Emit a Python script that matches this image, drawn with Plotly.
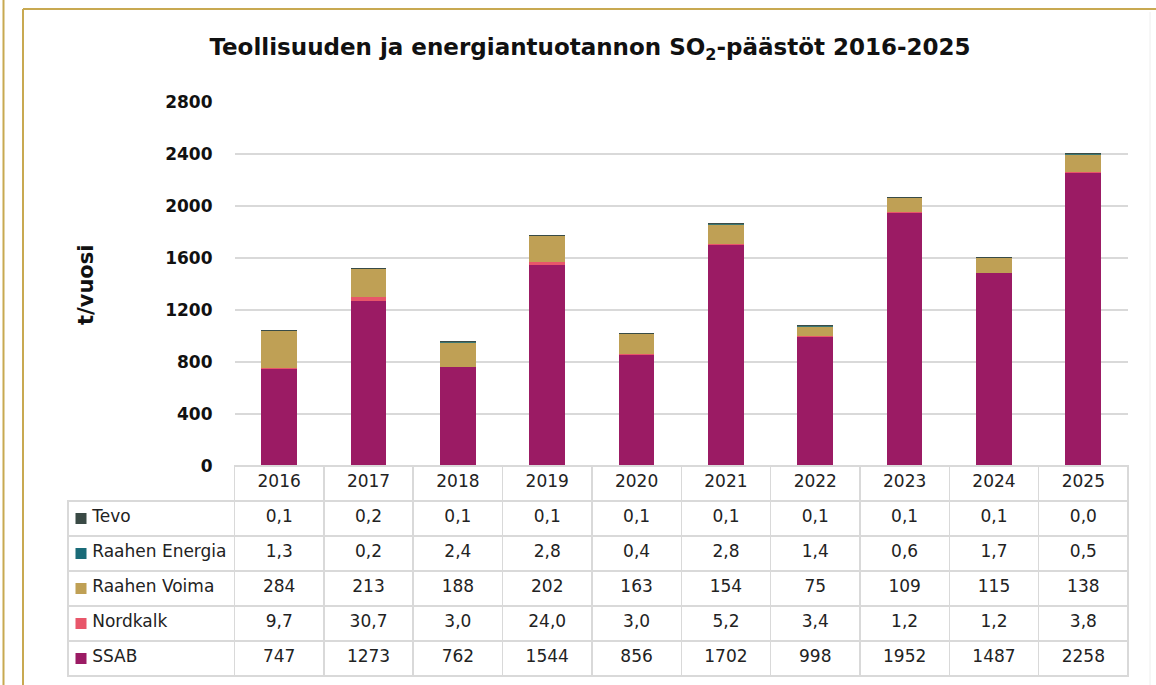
import plotly.graph_objects as go

W, H = 1156, 685

years = ["2016", "2017", "2018", "2019", "2020", "2021", "2022", "2023", "2024", "2025"]
series_names = ["Tevo", "Raahen Energia", "Raahen Voima", "Nordkalk", "SSAB"]
tevo = [0.1, 0.2, 0.1, 0.1, 0.1, 0.1, 0.1, 0.1, 0.1, 0.0]
raahen_energia = [1.3, 0.2, 2.4, 2.8, 0.4, 2.8, 1.4, 0.6, 1.7, 0.5]
raahen_voima = [284, 213, 188, 202, 163, 154, 75, 109, 115, 138]
nordkalk = [9.7, 30.7, 3.0, 24.0, 3.0, 5.2, 3.4, 1.2, 1.2, 3.8]
ssab = [747, 1273, 762, 1544, 856, 1702, 998, 1952, 1487, 2258]
y_ticks = [0, 400, 800, 1200, 1600, 2000, 2400, 2800]

colors = {
    "Tevo": "#3a4a45",
    "Raahen Energia": "#1a6b78",
    "Raahen Voima": "#bfa055",
    "Nordkalk": "#e8566a",
    "SSAB": "#9b1b64",
}
decimals = {"Tevo": 1, "Raahen Energia": 1, "Raahen Voima": 0, "Nordkalk": 1, "SSAB": 0}
values = {
    "Tevo": tevo,
    "Raahen Energia": raahen_energia,
    "Raahen Voima": raahen_voima,
    "Nordkalk": nordkalk,
    "SSAB": ssab,
}

FONT = "DejaVu Sans"
GRID = "#d9d9d9"
GOLD = "#c8a951"
TXT = "#222222"

fig = go.Figure()

# stacked bars (bottom to top)
for name in ["SSAB", "Nordkalk", "Raahen Voima", "Raahen Energia", "Tevo"]:
    thin = name in ("Raahen Energia", "Tevo")
    fig.add_trace(go.Bar(
        x=years, y=values[name], name=name,
        marker=dict(color=colors[name],
                    line=dict(color=colors[name], width=0.8 if thin else 0)),
        showlegend=False, xaxis="x", yaxis="y",
    ))

# legend keys for the table rows (square markers in the label column)
fig.add_trace(go.Scatter(
    x=[0] * len(series_names), y=series_names, mode="markers",
    marker=dict(symbol="square", size=11, color=[colors[n] for n in series_names]),
    xaxis="x2", yaxis="y2", showlegend=False, hoverinfo="skip",
))

# data table below
def fmt(v, d):
    return f"{v:.{d}f}".replace(".", ",")

NBSP = "\u00a0"
label_col = [NBSP * 3 + n.replace(" ", NBSP) for n in series_names]
cols = [label_col] + [[fmt(values[n][i], decimals[n]) for n in series_names] for i in range(len(years))]

x0_px, x1_px = 68, 1128
label_w = 166.5
col_w = [label_w] + [(x1_px - 234.5) / 10] * 10
table_top_px = 466
row_h = 35
fig.add_trace(go.Table(
    domain=dict(x=[x0_px / W, x1_px / W], y=[0, (H - table_top_px) / H]),
    columnwidth=col_w,
    header=dict(
        values=[""] + years,
        height=row_h,
        align="center",
        fill=dict(color=["rgba(0,0,0,0)"] + ["white"] * 10),
        line=dict(color=["rgba(0,0,0,0)"] + [GRID] * 10, width=1.5),
        font=dict(family=FONT, size=17, color=TXT),
    ),
    cells=dict(
        values=cols,
        height=row_h,
        align=["left"] + ["center"] * 10,
        fill=dict(color=["rgba(0,0,0,0)"] + ["white"] * 10),
        line=dict(color=GRID, width=1.5),
        font=dict(family=FONT, size=17, color=TXT),
    ),
))

plot_x0 = 234.5 / W
plot_x1 = x1_px / W
rows_top_px = table_top_px + row_h
rows_bot_px = rows_top_px + row_h * len(series_names)
fig.update_layout(
    width=W, height=H,
    margin=dict(l=0, r=0, t=0, b=0),
    paper_bgcolor="white", plot_bgcolor="white",
    barmode="stack", bargap=0.6,
    font=dict(family=FONT),
    xaxis=dict(domain=[plot_x0, plot_x1], showticklabels=False, showgrid=False,
               zeroline=False, showline=False, ticks="", automargin=False),
    yaxis=dict(domain=[(H - table_top_px) / H, (H - 102) / H], range=[0, 2800],
               tickvals=y_ticks, ticktext=[str(t) for t in y_ticks],
               showgrid=True, gridcolor=GRID, gridwidth=1.5, zeroline=False,
               showline=False, ticks="", ticklabelstandoff=21, automargin=False,
               tickfont=dict(family=FONT, size=17, color="#111111", weight="bold")),
    xaxis2=dict(domain=[x0_px / W, (x0_px + label_w) / W], range=[-13, label_w - 13],
                visible=False, anchor="y2"),
    yaxis2=dict(domain=[(H - rows_bot_px) / H, (H - rows_top_px) / H],
                type="category", categoryorder="array",
                categoryarray=series_names[::-1], range=[-0.5, len(series_names) - 0.5],
                visible=False, anchor="x2"),
    title=dict(
        text="Teollisuuden ja energiantuotannon SO<sub>2</sub>-päästöt 2016-2025",
        x=590 / W, xanchor="center", y=1 - 47 / H, yanchor="middle",
        font=dict(family=FONT, size=23, color="#111111", weight="bold"),
    ),
)

fig.add_annotation(
    text="t/vuosi", textangle=-90, xref="paper", yref="paper",
    x=72 / W, y=1 - 285 / H, showarrow=False,
    font=dict(family=FONT, size=21, color="#111111", weight="bold"),
)

# decorative frame
fig.add_shape(type="line", xref="paper", yref="paper", x0=3.5 / W, x1=3.5 / W, y0=0, y1=1,
              line=dict(color=GOLD, width=2))
fig.add_shape(type="line", xref="paper", yref="paper", x0=23 / W, x1=23 / W, y0=0, y1=1 - 9 / H,
              line=dict(color=GOLD, width=2))
fig.add_shape(type="line", xref="paper", yref="paper", x0=23 / W, x1=1, y0=1 - 9 / H, y1=1 - 9 / H,
              line=dict(color=GOLD, width=2))
fig.add_shape(type="line", xref="paper", yref="paper", x0=1150 / W, x1=1150 / W, y0=0, y1=1 - 12 / H,
              line=dict(color="#eeeeee", width=1))

fig.write_html("out.html", config={"displayModeBar": False},
               post_script="document.body.style.margin='0';")
